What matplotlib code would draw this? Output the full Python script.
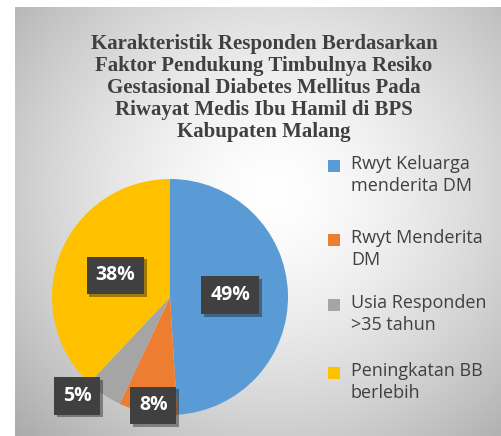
import numpy as np
import matplotlib
matplotlib.use("Agg")
import matplotlib.pyplot as plt
import matplotlib.patheffects as pe

# data
labels = ["Rwyt Keluarga\nmenderita DM", "Rwyt Menderita\nDM",
          "Usia Responden\n>35 tahun", "Peningkatan BB\nberlebih"]
values = [49, 8, 5, 38]
pct_text = ["49%", "8%", "5%", "38%"]
colors = ["#5B9BD5", "#ED7D31", "#A5A5A5", "#FFC000"]
title = ("Karakteristik Responden Berdasarkan\nFaktor Pendukung Timbulnya Resiko\n"
         "Gestasional Diabetes Mellitus Pada\nRiwayat Medis Ibu Hamil di BPS\n"
         "Kabupaten Malang")

W, H = 502, 436
fig = plt.figure(figsize=(W / 100, H / 100), dpi=100)
fig.patch.set_facecolor("white")

# background gradient panel
bg = fig.add_axes([15 / W, 0, 1 - 15 / W, 1 - 7 / H])
bg.set_axis_off()
yy, xx = np.mgrid[0:300, 0:360]
cx, cy = 190, 130
d = np.sqrt(((xx - cx) / 220.0) ** 2 + ((yy - cy) / 200.0) ** 2)
shade = 1.0 - 0.25 * np.clip(d, 0, 1.3) ** 1.5
img = np.dstack([shade, shade, shade])
bg.imshow(img, aspect="auto", extent=[0, 1, 0, 1], interpolation="bilinear")
bg.set_xlim(0, 1)
bg.set_ylim(0, 1)

# title
fig.text(264 / W, 1 - 88 / H, title, ha="center", va="center",
         family="Liberation Serif", fontweight="bold", fontsize=15,
         color="#404040", linespacing=1.12)

# pie
pcx, pcy, r = 170, 297, 118
ax = fig.add_axes([(pcx - r) / W, (H - pcy - r) / H, 2 * r / W, 2 * r / H])
wedges, _ = ax.pie(values, colors=colors, startangle=90, counterclock=False,
                   radius=1, wedgeprops=dict(linewidth=0))
ax.set_xlim(-1, 1)
ax.set_ylim(-1, 1)
ax.set_aspect("equal")

lab_r = [0.51, 0.93, 1.15, 0.50]
lab_da = [0, 2, -9, 0]
for w, t, rr, da in zip(wedges, pct_text, lab_r, lab_da):
    ang = np.deg2rad((w.theta1 + w.theta2) / 2 + da)
    x, y = rr * np.cos(ang), rr * np.sin(ang)
    ax.text(x, y, t, ha="center", va="center", color="white", fontsize=14,
            fontweight="bold", family="Open Sans", clip_on=False,
            bbox=dict(boxstyle="square,pad=0.45", fc="#404040", ec="none",
                      path_effects=[pe.withSimplePatchShadow(offset=(2, -2),
                                                             alpha=0.4)]))

# legend
leg_x = 334
leg_y = [166, 240, 305, 373]
for lab, c, y in zip(labels, colors, leg_y):
    fig.patches.append(plt.Rectangle(((leg_x - 6) / W, 1 - (y + 6) / H),
                                     12 / W, 12 / H, transform=fig.transFigure,
                                     fc=c, ec="none"))
    fig.text(351 / W, 1 - (y - 11) / H, lab, ha="left", va="top",
             family="Open Sans", fontsize=13, color="#404040",
             linespacing=1.3)

fig.savefig("out.png", dpi=100)
